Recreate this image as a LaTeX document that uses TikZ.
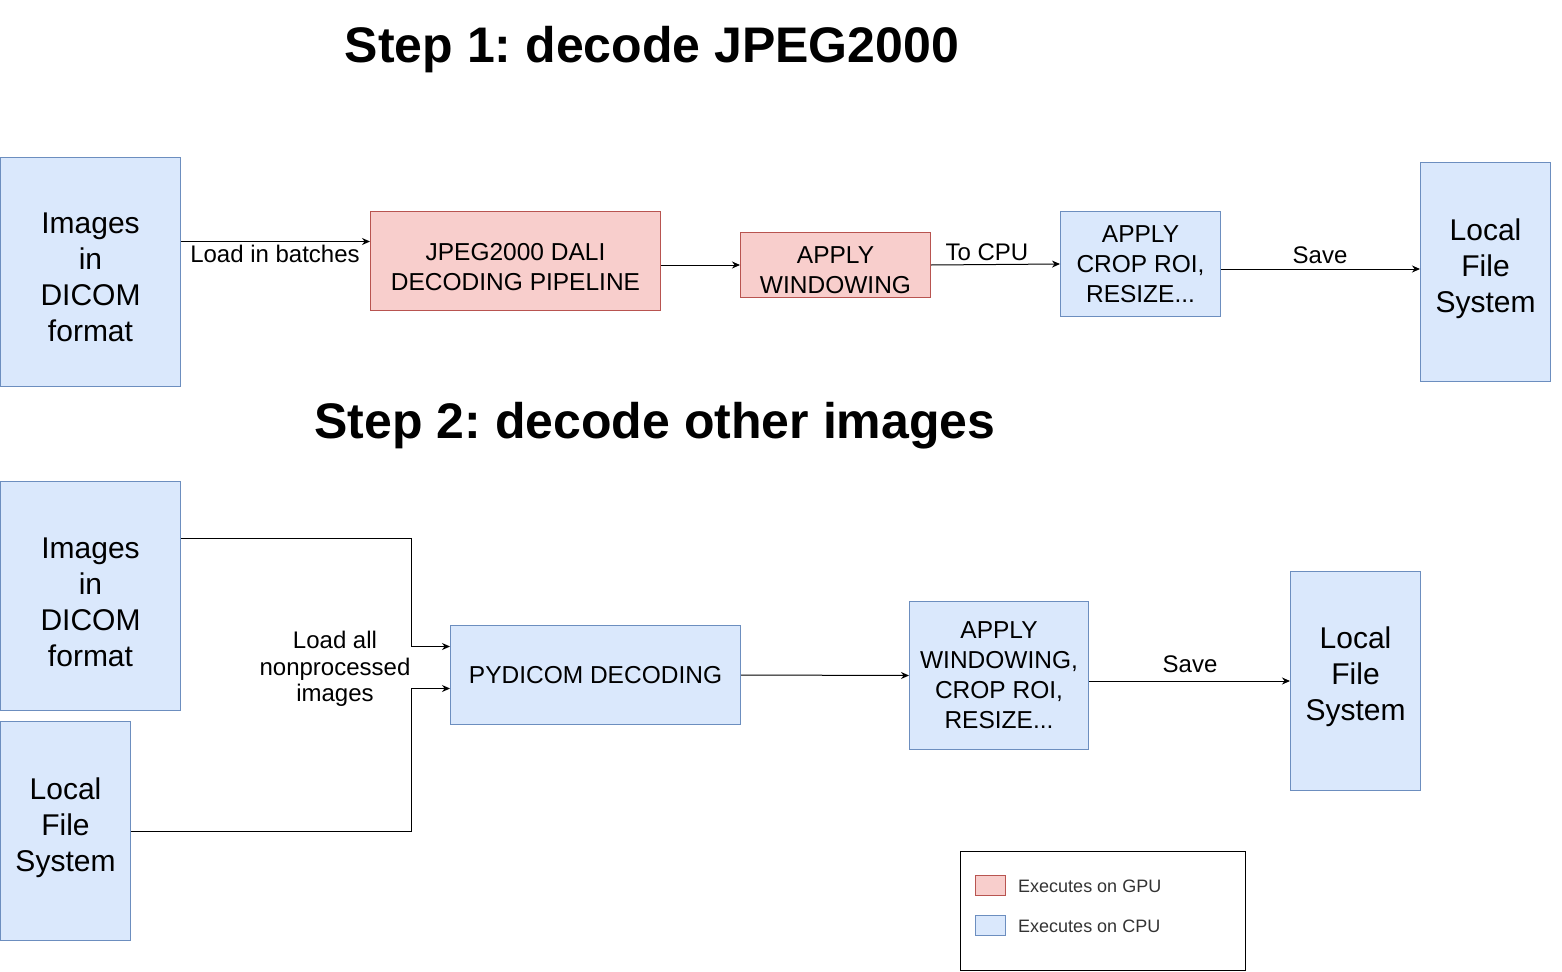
\documentclass[tikz,border=0pt]{standalone}
\usepackage{fontspec}
\setmainfont{Liberation Sans}
\usetikzlibrary{arrows.meta,calc}
\definecolor{bluef}{HTML}{DAE8FC}
\definecolor{blued}{HTML}{6C8EBF}
\definecolor{redf}{HTML}{F8CECC}
\definecolor{redd}{HTML}{B85450}
\definecolor{legtext}{HTML}{333333}
\frenchspacing
\newcommand\lowertext[1]{\rule{0pt}{#1}}
\begin{document}
\begin{tikzpicture}[x=1pt,y=-1pt,
 box/.style={draw, line width=1pt, inner sep=0pt, align=center, anchor=north west},
 cpu/.style={box, draw=blued, fill=bluef},
 gpu/.style={box, draw=redd, fill=redf},
 big/.style={font=\fontsize{30}{36}\selectfont},
 mid/.style={font=\fontsize{24.5}{30}\selectfont},
 lbl/.style={font=\fontsize{24}{26.5}\selectfont, inner sep=0pt, anchor=base},
 tup/.style={execute at end node={\rule[-#1]{0pt}{#1}}},
 arr/.style={draw=black, line width=1pt, -{Stealth[length=8pt,width=7pt]}},
 title/.style={font=\fontsize{50}{60}\selectfont\bfseries, anchor=base, inner sep=0pt},
 legtxt/.style={font=\fontsize{18}{20}\selectfont, text=legtext, anchor=west, inner sep=0pt}]
\useasboundingbox (0,0) rectangle (1562,971);

% titles
\node[title] (t1) at (652,63) {Step 1: decode JPEG2000};
\node[title] (t2) at (655,438) {Step 2: decode other images};

% step 1
\node[cpu,big,minimum width=180pt,minimum height=229pt] (img1) at (0,157) {\lowertext{32pt}Images\\in\\DICOM\\format};
\node[gpu,mid,minimum width=290pt,minimum height=99pt] (jpeg) at (370,211) {\lowertext{29.5pt}JPEG2000 DALI\\DECODING PIPELINE};
\node[gpu,mid,minimum width=190pt,minimum height=65pt] (win) at (740,232) {\lowertext{27pt}APPLY\\WINDOWING};
\node[cpu,mid,minimum width=160pt,minimum height=105pt] (crop) at (1060,211) {APPLY\\CROP ROI,\\RESIZE...};
\node[cpu,big,tup=12.5pt,minimum width=130pt,minimum height=219pt] (lfs1) at (1420,162) {Local\\File\\System};

\draw[arr] ([yshift=30.5pt]img1.east) -- ([yshift=30.5pt]img1.east -| jpeg.west);
\node[lbl] (l1) at (275,262) {Load in batches};
\draw[arr] (jpeg.east |- win.west) -- (win.west);
\draw[arr] (win.east) -- (crop.west);
\node[lbl] (l2) at (987,260) {To CPU};
\draw[arr] ([yshift=-5pt]crop.east) -- ([yshift=-5pt]crop.east -| lfs1.west);
\node[lbl] (l3) at (1320,263) {Save};

% step 2
\node[cpu,big,minimum width=180pt,minimum height=229pt] (img2) at (0,481) {\lowertext{33pt}Images\\in\\DICOM\\format};
\node[cpu,big,tup=12.5pt,minimum width=130pt,minimum height=219pt] (lfs2) at (0,721) {Local\\File\\System};
\node[cpu,mid,minimum width=290pt,minimum height=99pt] (pyd) at (450,625) {PYDICOM DECODING};
\node[cpu,mid,minimum width=179pt,minimum height=148pt] (win2) at (909,601) {APPLY\\WINDOWING,\\CROP ROI,\\RESIZE...};
\node[cpu,big,tup=14pt,minimum width=130pt,minimum height=219pt] (lfs3) at (1290,571) {Local\\File\\System};

\draw[arr] ([yshift=57.5pt]img2.east) -- ++(230,0) |- ([yshift=28.5pt]pyd.west);
\draw[arr] (lfs2.east) -- ++(280,0) |- ([yshift=-13.5pt]pyd.west);
\node[font=\fontsize{24}{26.5}\selectfont, align=center, inner sep=0pt] (l4) at (335,669) {Load all\\nonprocessed\\images};
\draw[arr] (pyd.east) -- (win2.west);
\draw[arr] (win2.east |- lfs3.west) -- (lfs3.west);
\node[lbl] (l5) at (1190,672) {Save};

% legend
\node[box, draw=black, minimum width=285pt, minimum height=119pt] (leg) at (960,851) {};
\node[gpu, minimum width=30pt, minimum height=20pt] (sg) at (975,875) {};
\node[cpu, minimum width=30pt, minimum height=20pt] (sc) at (975,915) {};
\node[legtxt] (lg) at (1018,886) {Executes on GPU};
\node[legtxt] (lc) at (1018,926) {Executes on CPU};
\end{tikzpicture}
\end{document}
